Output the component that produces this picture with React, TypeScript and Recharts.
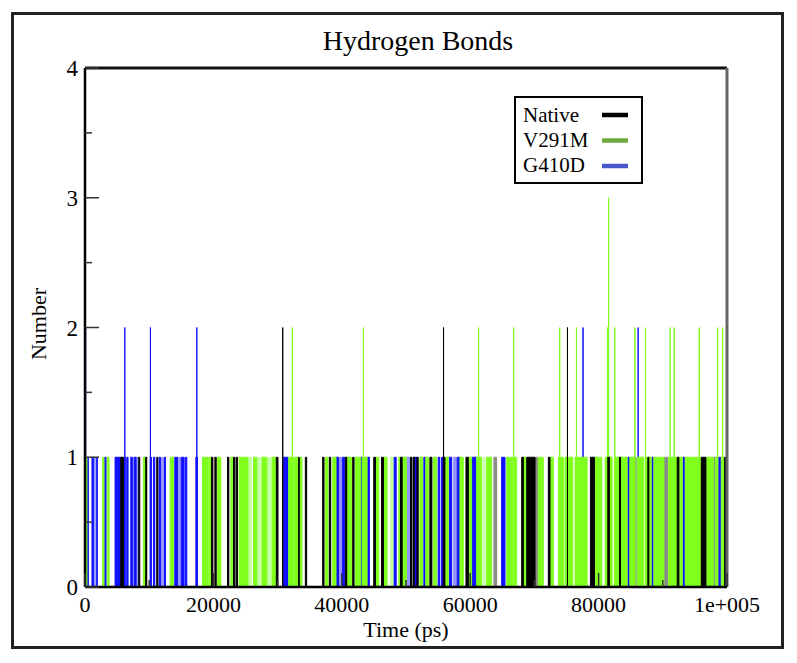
import React from 'react';
import { ComposedChart, Area, XAxis, YAxis, ReferenceLine } from 'recharts';

// [start ps, end ps, faint?] : stretches where the count flickers between 0 and 1
type Burst = [number, number, number?];
// [time ps, count] : single frames reaching 2 or 3
type Spike = [number, number];

const seriesNames = ['Native', 'V291M', 'G410D'];
const seriesColors = ['#000000', '#80ff1e', '#1010ff'];
const faintColors = ['#8a8a8a', '#c4ffa4', '#9494ff'];
const legendColors = ['#000000', '#6ca83c', '#4858cc'];

const xTicks = [0, 10000, 20000, 30000, 40000, 50000, 60000, 70000, 80000, 90000, 100000];
const xTickLabels = ['0', '', '20000', '', '40000', '', '60000', '', '80000', '', '1e+005'];
const yTicks = [0, 0.5, 1, 1.5, 2, 2.5, 3, 3.5, 4];
const yTickLabels = ['0', '', '1', '', '2', '', '3', '', '4'];

const nativeBursts: Burst[] = [
  [5570, 5980], [8370, 8530], [9460, 9620], [11180, 11340], [19710, 19920], [20230, 20440],
  [22200, 22410], [23140, 23350], [23560, 23760], [29800, 30060], [33280, 33380], [34320, 34530],
  [37020, 37230], [38060, 38270], [40560, 40770], [41700, 41910], [44980, 45240], [46180, 46490],
  [49140, 49400], [50700, 50910], [51120, 51300], [51700, 51900], [53720, 54030], [55800, 56060],
  [59340, 59710], [63700, 64120, 1], [68020, 68280], [68800, 70100], [70100, 70610, 1], [72170, 72430],
  [78728, 79352], [81432, 81692], [83252, 83408], [85592, 85852, 1], [87672, 87828], [90272, 90792, 1],
  [92248, 92508], [95992, 96720], [97864, 98176, 1], [99632, 100000],
];
const nativeSpikes: Spike[] = [[30800, 2], [55850, 2], [75150, 2]];

const v291mBursts: Burst[] = [
  [0, 300], [2760, 2960], [3480, 3740], [9100, 9410], [13260, 13780], [18300, 19190], [19340, 19700],
  [20640, 21160], [22720, 23040], [24020, 25380], [25480, 25900, 1], [26260, 26780], [26940, 27300, 1],
  [27560, 28340], [28500, 28860, 1], [29120, 29740], [31720, 32500], [32660, 33280], [33540, 33800],
  [37440, 37850], [38580, 39100], [40820, 41500], [42120, 42900], [43160, 43940], [45340, 45760],
  [46540, 47050], [47580, 48100, 1], [48880, 49140], [49400, 50050], [52160, 52570], [53090, 53510],
  [54240, 54760], [56060, 56580], [58400, 58920], [59710, 60220], [61000, 61780], [62040, 62300, 1],
  [62560, 63340], [65680, 66620], [66710, 67240], [68280, 68690], [70610, 71390], [72430, 72950],
  [73730, 74510], [74770, 75972], [76336, 78208], [79456, 80496], [81016, 81328], [81744, 82108],
  [82472, 84448], [84864, 85592], [86008, 87048], [87464, 88192], [88608, 90168], [90896, 92248],
  [92560, 93028], [93496, 95888], [96824, 97864], [98176, 98592], [99112, 99528],
];
const v291mSpikes: Spike[] = [
  [32292, 2], [43368, 2], [61308, 2], [66768, 2], [73944, 2], [76549, 2], [81380, 2], [81560, 3],
  [82524, 2], [85644, 2], [87313, 2], [91151, 2], [91775, 2], [95675, 2], [98545, 2], [99325, 2],
];

const g410dBursts: Burst[] = [
  [360, 520], [1090, 1300], [1400, 1610, 1], [1820, 1920], [3070, 3280], [4680, 5570], [6080, 6290],
  [6500, 6710], [7130, 7440], [7650, 7960], [8060, 8270, 1], [10140, 10350], [10660, 10870],
  [11540, 11750], [11910, 12120, 1], [12320, 12530], [13990, 14400], [14500, 14900, 1], [15000, 15440],
  [15650, 15860], [17270, 17520], [30940, 31720], [39100, 39500], [39600, 40000, 1], [40100, 40460],
  [42900, 43160], [43990, 44300], [48160, 48470], [50080, 50600, 1], [51300, 51700], [52780, 52990],
  [55010, 55260], [55540, 55800], [56730, 57100], [57360, 57880, 1], [57980, 58400], [60220, 61000],
  [64900, 65420], [84552, 84812], [88296, 88504], [93132, 93392], [98696, 99008],
];
const g410dSpikes: Spike[] = [[100, 2], [6200, 2], [10190, 2], [17420, 2], [77579, 2], [86159, 2]];

const buildTrace = (bursts: Burst[], spikes: Spike[], faint: boolean) => {
  const blocks = bursts
    .filter((b) => !!b[2] === faint)
    .map(([a, b]) => ({ a, b, inner: [] as Spike[] }));
  const loose: Spike[] = [];
  if (!faint) {
    spikes.forEach((sp) => {
      const host = blocks.find((k) => sp[0] > k.a && sp[0] < k.b);
      if (host) host.inner.push(sp);
      else loose.push(sp);
    });
  }
  const pieces = [
    ...blocks.map((k) => ({
      at: k.a,
      pts: [
        [k.a, 0], [k.a, 1],
        ...k.inner.sort((p, q) => p[0] - q[0]).flatMap(([s, v]) => [[s, 1], [s, v], [s, 1]]),
        [k.b, 1], [k.b, 0],
      ],
    })),
    ...loose.map(([s, v]) => ({ at: s, pts: [[s, 0], [s, v], [s, 0]] })),
  ];
  return pieces.sort((p, q) => p.at - q.at).flatMap((p) => p.pts.map(([x, y]) => ({ x, y })));
};

const allBursts = [nativeBursts, v291mBursts, g410dBursts];
const allSpikes = [nativeSpikes, v291mSpikes, g410dSpikes];
// blue at the back, black in front, faint flicker under the dense stretches
const drawOrder = [2, 1, 0];
const layers = [
  ...drawOrder.map((i) => ({ key: `f${i}`, color: faintColors[i], data: buildTrace(allBursts[i], allSpikes[i], true) })),
  ...drawOrder.map((i) => ({ key: `s${i}`, color: seriesColors[i], data: buildTrace(allBursts[i], allSpikes[i], false) })),
];

const FONT = '"Liberation Serif", "Times New Roman", serif';

const XTick = ({ x, y, index }: any) => {
  const label = xTickLabels[index];
  return (
    <g>
      <line x1={x} x2={x} y1={y} y2={y - (label ? 14 : 7)} stroke="#333" strokeWidth={1.5} />
      {label && (
        <text x={x} y={y + 25} textAnchor="middle" fontFamily={FONT} fontSize={22} fill="#000">
          {label}
        </text>
      )}
    </g>
  );
};

const YTick = ({ x, y, index }: any) => {
  const label = yTickLabels[index];
  return (
    <g>
      <line x1={x} x2={x + (label ? 14 : 7)} y1={y} y2={y} stroke="#333" strokeWidth={1.5} />
      {label && (
        <text x={x - 7} y={y + 8} textAnchor="end" fontFamily={FONT} fontSize={23} fill="#000">
          {label}
        </text>
      )}
    </g>
  );
};

export default function App() {
  return (
    <div style={{ position: 'absolute', left: 0, top: 0, width: 797, height: 663, background: '#fff' }}>
      <div style={{
        position: 'absolute', left: 11, top: 12, width: 773, height: 637,
        border: '3px solid #222', boxSizing: 'border-box'
      }} />
      <div style={{ position: 'absolute', left: 0, top: 0 }}>
        <ComposedChart width={797} height={663} margin={{ top: 68, right: 70, bottom: 0, left: 0 }}>
          {layers.map((l) => (
            <Area
              key={l.key}
              data={l.data}
              dataKey="y"
              type="linear"
              stroke={l.color}
              strokeWidth={1}
              fill={l.color}
              fillOpacity={1}
              dot={false}
              activeDot={false}
              isAnimationActive={false}
            />
          ))}
          <ReferenceLine y={4} stroke="#111" strokeWidth={3} />
          <ReferenceLine x={100000} stroke="#666" strokeWidth={3} />
          <XAxis
            type="number"
            dataKey="x"
            domain={[0, 100000]}
            ticks={xTicks}
            interval={0}
            allowDataOverflow
            height={76}
            tickSize={0}
            tickMargin={0}
            tickLine={false}
            axisLine={{ stroke: '#000', strokeWidth: 2.5 }}
            tick={(p: any) => <XTick {...p} />}
          />
          <YAxis
            type="number"
            domain={[0, 4]}
            ticks={yTicks}
            interval={0}
            allowDataOverflow
            width={85}
            tickSize={0}
            tickMargin={0}
            tickLine={false}
            axisLine={{ stroke: '#000', strokeWidth: 2.5 }}
            tick={(p: any) => <YTick {...p} />}
          />
        </ComposedChart>
      </div>
      <svg width={797} height={663} style={{ position: 'absolute', left: 0, top: 0, pointerEvents: 'none' }}>
        <text x={418} y={50} textAnchor="middle" fontFamily={FONT} fontSize={28} fill="#000">
          Hydrogen Bonds
        </text>
        <text x={406} y={637} textAnchor="middle" fontFamily={FONT} fontSize={22} fill="#000">
          Time (ps)
        </text>
        <text x={46} y={324} textAnchor="middle" fontFamily={FONT} fontSize={22} fill="#000"
          transform="rotate(-90 46 324)">
          Number
        </text>
        <rect x={515} y={97} width={127} height={86} fill="#fff" stroke="#000" strokeWidth={2} />
        {seriesNames.map((name, i) => (
          <g key={name}>
            <text x={523} y={122 + i * 25} fontFamily={FONT} fontSize={21} fill="#000">{name}</text>
            <line x1={602} x2={628} y1={115 + i * 25.5} y2={115 + i * 25.5} stroke={legendColors[i]} strokeWidth={4.5} />
          </g>
        ))}
      </svg>
    </div>
  );
}
